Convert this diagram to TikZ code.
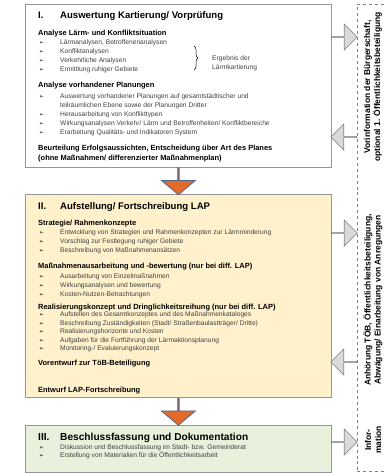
\documentclass[tikz,border=0pt]{standalone}
\usepackage{fontspec}
\setmainfont{Liberation Sans}
\newfontfamily\symfont{DejaVu Sans}
\usetikzlibrary{shapes.arrows, calc, decorations.pathreplacing}
\definecolor{boxline}{RGB}{150,150,150}
\definecolor{phaseII}{RGB}{255,241,204}
\definecolor{phaseIII}{RGB}{233,240,220}
\definecolor{flowfill}{RGB}{228,106,42}
\definecolor{flowline}{RGB}{76,104,150}
\definecolor{sidefill}{RGB}{217,217,217}
\definecolor{sideline}{RGB}{128,128,128}
\definecolor{itemtext}{RGB}{64,64,64}

\begin{document}
\begin{tikzpicture}[x=1bp, y=-1bp,
    phase/.style = {draw=boxline, line width=0.8bp, anchor=north west,
                    inner sep=0pt, minimum width=306bp},
     flow/.style = {single arrow, draw=flowline, fill=flowfill, line width=0.8bp,
                    rotate=-90, minimum height=27bp, minimum width=34bp,
                    single arrow head extend=9bp, single arrow tip angle=100,
                    inner sep=0pt},
     side/.style = {single arrow, draw=sideline, fill=sidefill, line width=0.6bp,
                    minimum height=26bp, minimum width=26bp,
                    single arrow head extend=6.5bp, inner sep=0pt},
 sideleft/.style = {side, rotate=180},
phasetitle/.style = {anchor=base west, inner sep=0pt,
                    font=\fontsize{9.6}{11}\selectfont\bfseries},
  subhead/.style = {anchor=base west, inner sep=0pt,
                    font=\fontsize{7.5}{9}\selectfont\bfseries},
     item/.style = {anchor=base west, inner sep=0pt, text=itemtext,
                    font=\fontsize{6.7}{8}\selectfont},
bulletsym/.style = {anchor=base west, inner sep=0pt,
                    font=\symfont\fontsize{5.5}{6}\selectfont},
 sidetext/.style = {rotate=90, align=center, inner sep=0pt,
                    font=\fontsize{8.5}{10}\selectfont\bfseries}
                        ]
\useasboundingbox (0,0) rectangle (385,473);
% phases
\node[phase, minimum height=163bp] (boxI) at (25,4) {};
\node[phase, fill=phaseII, minimum height=203bp] (boxII) at (25,194) {};
\node[phase, fill=phaseIII, minimum height=47bp] (boxIII) at (25,425) {};
\node[draw=sideline, dashed, line width=0.5bp, anchor=north west, inner sep=0pt,
      minimum width=40bp, minimum height=467bp] (panel) at (357,4) {};
% phase I
\node[phasetitle] (numI) at (38,19) {I.};
\node[phasetitle] (titleI) at (60,19) {Auswertung Kartierung/ Vorprüfung};
\node[subhead] (laerm) at (38,36) {Analyse Lärm- und Konfliktsituation};
\foreach \y/\t [count=\i] in {45/{Lärmanalysen,  Betroffenenanalysen},
        54/Konfliktanalysen, 63/Verkehrliche Analysen, 72/Ermittlung  ruhiger Gebiete}{
    \node[bulletsym] (bla\i) at (39,\y) {➢};
    \node[item] (ila\i) at (60,\y) {\t};
}
\draw[decorate, decoration={brace, amplitude=4bp}, line width=0.5bp] (194,46) -- (194,70);
\node[item] (erg1) at (212,61) {Ergebnis der};
\node[item] (erg2) at (212,69.5) {Lärmkartierung};
\node[subhead] (planung) at (38,88) {Analyse vorhandener Planungen};
\node[bulletsym] (blp1) at (39,99) {➢};
\node[item] (ilp1) at (60,99) {Auswertung  vorhandener  Planungen  auf gesamtstädtischer  und};
\node[item] (ilp1b) at (60,107.5) {teilräumlichen  Ebene sowie der Planungen  Dritter};
\foreach \y/\t [count=\i from 2] in {116.5/Herausarbeitung  von Konflikttypen,
        125.5/{Wirkungsanalysen Verkehr/ Lärm und Betroffenheiten/  Konfliktbereiche},
        134.5/Erarbeitung Qualitäts-  und Indikatoren System}{
    \node[bulletsym] (blp\i) at (39,\y) {➢};
    \node[item] (ilp\i) at (60,\y) {\t};
}
\node[subhead] (beurt1) at (38,151) {Beurteilung Erfolgsaussichten, Entscheidung über Art des Planes};
\node[subhead] (beurt2) at (38,161) {(ohne Maßnahmen/ differenzierter Maßnahmenplan)};
% phase II
\node[phasetitle] (numII) at (38,209.5) {II.};
\node[phasetitle] (titleII) at (60,209.5) {Aufstellung/ Fortschreibung LAP};
\node[subhead] (strat) at (38,226) {Strategie/ Rahmenkonzepte};
\foreach \y/\t [count=\i] in {235/Entwicklung von Strategien und Rahmenkonzepten  zur Lärmminderung,
        243.5/Vorschlag zur Festlegung  ruhiger Gebiete,
        252/Beschreibung von Maßnahmenansätzen}{
    \node[bulletsym] (bls\i) at (39,\y) {➢};
    \node[item] (ils\i) at (60,\y) {\t};
}
\node[subhead] (massn) at (38,268) {Maßnahmenausarbeitung und -bewertung (nur bei diff. LAP)};
\foreach \y/\t [count=\i] in {278/Ausarbeitung  von Einzelmaßnahmen,
        287/Wirkungsanalysen und  bewertung, 296/Kosten-Nutzen-Betrachtungen}{
    \node[bulletsym] (blm\i) at (39,\y) {➢};
    \node[item] (ilm\i) at (60,\y) {\t};
}
\node[subhead] (real) at (38,309) {Realisierungskonzept und Dringlichkeitsreihung (nur bei diff. LAP)};
\foreach \y/\t [count=\i] in {316.5/Aufstellen des Gesamtkonzeptes  und des Maßnahmenkataloges,
        325/{Beschreibung Zuständigkeiten  (Stadt/ Straßenbaulastträger/  Dritte)},
        333.5/Realisierungshorizonte  und Kosten,
        342/Aufgaben für die Fortführung der Lärmaktionsplanung,
        350.5/{Monitoring-/ Evaluierungskonzept}}{
    \node[bulletsym] (blr\i) at (39,\y) {➢};
    \node[item] (ilr\i) at (60,\y) {\t};
}
\node[subhead] (vorent) at (38,365) {Vorentwurf zur TöB-Beteiligung};
\node[subhead] (entwurf) at (38,392) {Entwurf LAP-Fortschreibung};
% phase III
\node[phasetitle, font=\fontsize{10.2}{11}\selectfont\bfseries] (numIII) at (38,440.5) {III.};
\node[phasetitle, font=\fontsize{10.2}{11}\selectfont\bfseries] (titleIII) at (60,440.5) {Beschlussfassung und Dokumentation};
\foreach \y/\t [count=\i] in {449.5/Diskussion und Beschlussfassung  im Stadt-  bzw.  Gemeinderat,
        457/Erstellung von Materialien für die Öffentlichkeitsarbeit}{
    \node[bulletsym] (blb\i) at (39,\y) {➢};
    \node[item] (ilb\i) at (60,\y) {\t};
}
% flow between phases
\node[flow] (flowI) at ($(boxI.south)!0.5!(boxII.north)$) {};
\node[flow] (flowII) at ($(boxII.south)!0.5!(boxIII.north)$) {};
% participation
\node[side] (outI) at (344,37) {};
\node[sideleft] (inI) at (344,137) {};
\node[side] (outII) at (344,233) {};
\node[sideleft] (inII) at (344,362) {};
\node[side] (outIII) at (344,442) {};
\node[sidetext] (partI) at (373,87) {Vorinformation der Bürgerschaft,\\optional 1. Öffentlichkeitsbeteiligung};
\node[sidetext] (partII) at (373,300) {Anhörung TÖB, Öffentlichkeitsbeteiligung,\\Abwägung/ Einarbeitung von Anregungen};
\node[sidetext] (partIII) at (373,440) {Infor-\\mation};
\end{tikzpicture}
\end{document}
